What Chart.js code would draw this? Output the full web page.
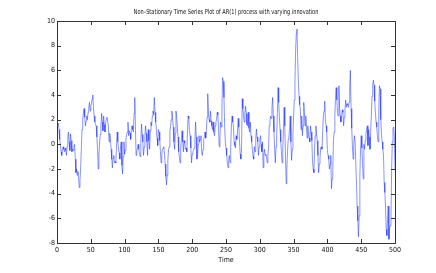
<!DOCTYPE html>
<html>
<head>
<meta charset="utf-8">
<script src="https://cdn.jsdelivr.net/npm/chart.js@4.4.0/dist/chart.umd.min.js"></script>
<style>
  html, body { margin: 0; padding: 0; background: #fff; }
  #chart { display: block; }
</style>
</head>
<body>
<canvas id="chart" width="436" height="273"></canvas>
<script>
const titleText = "Non\u2013Stationary Time Series Plot of AR(1) process with varying innovation";
const xLabel = "Time";
const xTicks = [0, 50, 100, 150, 200, 250, 300, 350, 400, 450, 500];
const yTicks = [-8, -6, -4, -2, 0, 2, 4, 6, 8, 10];

// series, 50 steps per block
const block1 = [1.5, 1.7, 1.2, 0.4, 0.0, -0.6, -0.9, -0.5, -0.2, -0.4, -0.6, -0.3, -0.5, -0.9, -0.2, 0.6, 1.0, 0.2, -0.5, 0.85,
  0.3, -0.6, -0.4, -0.5, -0.2, 0.0, -1.2, -2.3, -2.0, -2.5, -2.2, -2.8, -3.5, -2.9, -1.9, -0.4, 1.2, 2.05, 2.5, 2.9,
  2.2, 1.5, 1.9, 2.3, 2.0, 2.6, 3.0, 3.4, 2.7, 3.1];
const block2 = [3.3, 3.7, 4.0, 2.9, 2.3, 1.8, 1.6, 1.5, 0.6, -0.4, -2.0, -0.8, 0.1, 0.8, 1.5, 2.5, 1.8, 1.1, 2.3, 1.6,
  1.0, 1.8, 2.0, 2.2, 2.2, 1.5, 0.2, 0.9, 0.5, -0.4, -1.2, -1.9, -1.1, -0.9, -1.5, -1.4, -1.5, -0.2, 1.0, 0.2,
  -0.4, -0.7, -1.2, -0.2, 0.2, -1.7, -2.4, -1.0, 0.2, -0.8];
const block3 = [-0.5, 0.4, 0.8, 1.0, 1.8, 0.7, 1.1, 0.9, 0.4, 1.2, 1.5, 1.2, 1.0, 2.5, 3.8, 1.5, -0.9, -0.6, -0.3, 0.0,
  -0.4, -0.7, -1.0, 0.3, 1.65, 0.8, 0.2, -0.9, -0.2, 0.6, 1.5, 0.9, 0.2, -0.9, 1.2, 0.3, -0.4, 1.1, 1.8, 1.5,
  2.3, 2.7, 2.4, 3.8, 2.6, 1.8, 1.2, 0.5, -0.1, 1.2];
const block4 = [1.0, 0.3, -0.6, -1.5, -0.8, -0.4, -0.3, -0.2, -0.8, -1.6, -2.6, -3.3, -2.5, -1.3, -0.4, -0.2, 1.1, 1.4, 2.0, 2.7,
  2.1, 1.4, 0.2, -0.4, 0.9, 2.7, 2.3, 1.5, 0.6, -0.6, -1.0, -1.5, -0.4, 0.4, 1.1, 0.2, -0.6, 0.3, 0.1, -0.4,
  -0.3, -0.6, 1.0, 2.3, 2.1, 1.0, 0.7, -0.3, -1.5, -0.8];
const block5 = [-0.6, -0.5, -0.3, 0.4, 1.8, 0.6, -1.2, -0.9, 0.0, 0.7, 0.2, 0.4, 0.7, -0.6, -0.9, -0.4, 0.4, 0.6, 1.0, 0.5,
  1.2, 2.2, 4.1, 2.5, 2.0, 1.8, 2.7, 1.9, 1.5, 1.2, 1.8, 1.0, 0.7, 1.5, 1.8, 2.0, 2.6, 2.4, 1.2, -0.2,
  0.5, 1.8, 1.4, 3.0, 5.4, 5.1, 3.8, 1.5, 0.2, -0.3];
const block6 = [-0.9, -1.5, -1.9, -1.2, -0.9, -1.5, -0.2, 1.5, 2.3, 1.8, 1.5, 0.2, -0.1, -0.3, 0.7, 0.4, 1.0, 2.1, 1.4, 0.2,
  -0.8, -1.2, -0.4, 3.7, 2.9, 2.3, 1.8, 2.6, 3.1, 2.5, 1.6, 1.5, 2.6, 1.3, 1.0, 1.8, 0.7, 0.2, -0.4, -1.0,
  -1.2, -0.2, -0.6, 0.4, 1.25, 0.6, 0.2, -0.9, -0.2, 0.3];
const block7 = [0.7, 0.0, -0.6, 0.2, -1.9, -0.8, -0.4, -0.9, -0.8, -1.0, -1.5, -0.9, -0.2, 1.5, 1.8, 2.3, 2.1, 3.0, 3.8, 2.3,
  1.0, -0.4, -1.5, -0.2, 0.7, 2.5, 4.6, 3.4, 2.2, 1.2, 0.2, -0.6, -1.5, -0.3, 1.2, 3.0, 1.5, -1.0, -3.2, -2.0,
  -0.6, 0.4, 0.6, 1.2, 2.3, 0.2, -1.3, -0.4, 0.8, 2.3];
const block8 = [3.6, 5.0, 7.7, 9.0, 9.35, 7.0, 5.2, 3.9, 3.2, 2.8, 1.2, 2.3, 0.7, 1.5, 3.4, 2.6, 1.5, 2.3, 1.4, 0.5,
  1.5, 0.8, 0.5, 0.2, 1.5, 1.0, 0.3, -1.4, -2.0, -2.3, -0.5, 0.7, 1.5, 0.8, 0.3, -0.9, -2.3, -1.6, -1.2, -0.3,
  -0.2, -0.4, 1.0, 2.3, 2.7, 3.5, 2.0, 1.5, 1.0, -0.5];
const block9 = [-0.9, -1.2, -2.0, -1.6, -0.9, -3.6, -2.8, -2.0, 0.4, 1.0, 2.3, 3.8, 4.6, 3.6, 2.5, 2.3, 4.75, 3.0, 2.3, 1.8,
  2.3, 2.8, 2.6, 1.5, 2.2, 2.8, 3.6, 3.0, 3.3, 3.2, 3.0, 3.4, 4.75, 6.0, 2.9, 1.3, -0.2, -1.2, 0.0, 0.7,
  0.2, 0.2, -3.1, -5.0, -6.2, -7.5, -5.8, -2.6, -0.5, 0.7];
const block10 = [-0.3, -1.6, -2.8, 0.0, -0.4, 0.3, 0.8, 1.2, 1.5, -0.1, 1.2, 0.6, -0.4, 1.0, 2.3, 3.9, 4.8, 5.2, 4.8, 3.5,
  2.6, 1.8, 1.4, 0.7, 0.2, 2.6, 4.75, 4.5, 2.0, 0.8, 0.2, -0.4, -0.9, -3.1, -3.9, -5.2, -6.9, -7.4, -6.0, -5.0,
  -7.7, -6.8, -6.6, -6.4, -2.0, 0.2, 1.25, 1.4, 0.7, -2.1];

const values = [].concat(block1, block2, block3, block4, block5, block6, block7, block8, block9, block10);
const points = values.map((v, i) => ({ x: i + 1, y: v }));

const narrow = "'Liberation Sans Narrow', 'DejaVu Sans Condensed', 'Liberation Sans', sans-serif";

// MATLAB style: box all round, ticks pointing inward on every side
const boxPlugin = {
  id: "box",
  afterDraw(chart) {
    const ctx = chart.ctx;
    const a = chart.chartArea;
    const xs = chart.scales.x;
    const ys = chart.scales.y;
    ctx.save();
    ctx.strokeStyle = "#333";
    ctx.lineWidth = 1;
    ctx.strokeRect(Math.round(a.left) + 0.5, Math.round(a.top) + 0.5,
      Math.round(a.right - a.left), Math.round(a.bottom - a.top));
    ctx.beginPath();
    xTicks.forEach(t => {
      const px = Math.round(xs.getPixelForValue(t)) + 0.5;
      ctx.moveTo(px, a.bottom); ctx.lineTo(px, a.bottom - 4);
      ctx.moveTo(px, a.top); ctx.lineTo(px, a.top + 4);
    });
    yTicks.forEach(t => {
      const py = Math.round(ys.getPixelForValue(t)) + 0.5;
      ctx.moveTo(a.left, py); ctx.lineTo(a.left + 4, py);
      ctx.moveTo(a.right, py); ctx.lineTo(a.right - 4, py);
    });
    ctx.stroke();
    // title, squeezed to the narrow width of the original
    ctx.fillStyle = "#111";
    ctx.font = "7px " + narrow;
    ctx.textAlign = "center";
    ctx.textBaseline = "middle";
    ctx.translate((a.left + a.right) / 2, 12);
    ctx.scale(0.8, 1);
    ctx.fillText(titleText, 0, 0);
    ctx.restore();
  }
};

new Chart(document.getElementById("chart"), {
  type: "line",
  data: {
    datasets: [{
      data: points,
      borderColor: "rgb(20,40,255)",
      borderWidth: 0.5,
      pointRadius: 0,
      tension: 0,
      fill: false
    }]
  },
  options: {
    responsive: false,
    animation: false,
    layout: { padding: { top: 21, right: 41, left: 0, bottom: 0 } },
    plugins: { legend: { display: false }, tooltip: { enabled: false } },
    scales: {
      x: {
        type: "linear",
        min: 0, max: 500,
        afterBuildTicks: s => { s.ticks = xTicks.map(v => ({ value: v })); },
        afterFit: s => { s.height = 30; },
        grid: { display: false, drawTicks: false },
        border: { display: false },
        ticks: { padding: 3, color: "#111", font: { family: narrow, size: 7 }, maxRotation: 0 },
        title: { display: true, text: xLabel, color: "#111", font: { family: narrow, size: 7 }, padding: { top: 0, bottom: 9 } }
      },
      y: {
        min: -8, max: 10,
        afterBuildTicks: s => { s.ticks = yTicks.map(v => ({ value: v })); },
        afterFit: s => { s.width = 57; },
        grid: { display: false, drawTicks: false },
        border: { display: false },
        ticks: { padding: 2, color: "#111", font: { family: narrow, size: 7 } }
      }
    }
  },
  plugins: [boxPlugin]
});
</script>
</body>
</html>
